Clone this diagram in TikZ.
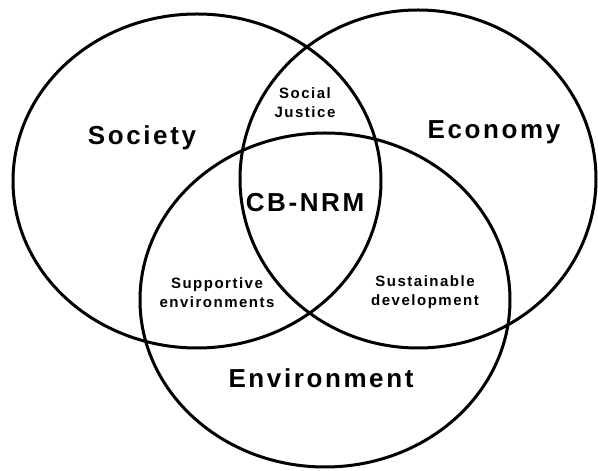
\documentclass[tikz,border=0pt]{standalone}
\usepackage{fontspec}
\setmainfont{Liberation Sans}
\newfontfamily\vennfont[LetterSpace=10]{Liberation Sans}
\usetikzlibrary{positioning}

\tikzset{
  setline/.style={line width=3pt},
  biglabel/.style={font=\vennfont\bfseries\fontsize{26}{30}\selectfont, anchor=base},
  smalllabel/.style={font=\vennfont\bfseries\fontsize{15}{19}\selectfont, align=center}
}

\begin{document}
\begin{tikzpicture}[x=1pt,y=1pt]
    \useasboundingbox (0,0) rectangle (598,471);
    % three overlapping sets
    \draw[setline] (197,290) ellipse [x radius=184, y radius=167];
    \draw[setline] (418,292) ellipse [x radius=178, y radius=169];
    \draw[setline] (325,171) ellipse [x radius=185, y radius=167];
    % set names
    \node[biglabel] (society) at (142,326) {Society};
    \node[biglabel] (economy) at (494,332) {Economy};
    \node[biglabel] (environment) at (321,83) {Environment};
    \node[biglabel] (cbnrm) at (305,259) {CB-NRM};
    % overlaps
    \node[smalllabel] (justice) at (305,368) {Social\\Justice};
    \node[smalllabel] (supportive) at (217,178) {Supportive\\environments};
    \node[smalllabel] (sustainable) at (425,179) {Sustainable\\development};
\end{tikzpicture}
\end{document}
